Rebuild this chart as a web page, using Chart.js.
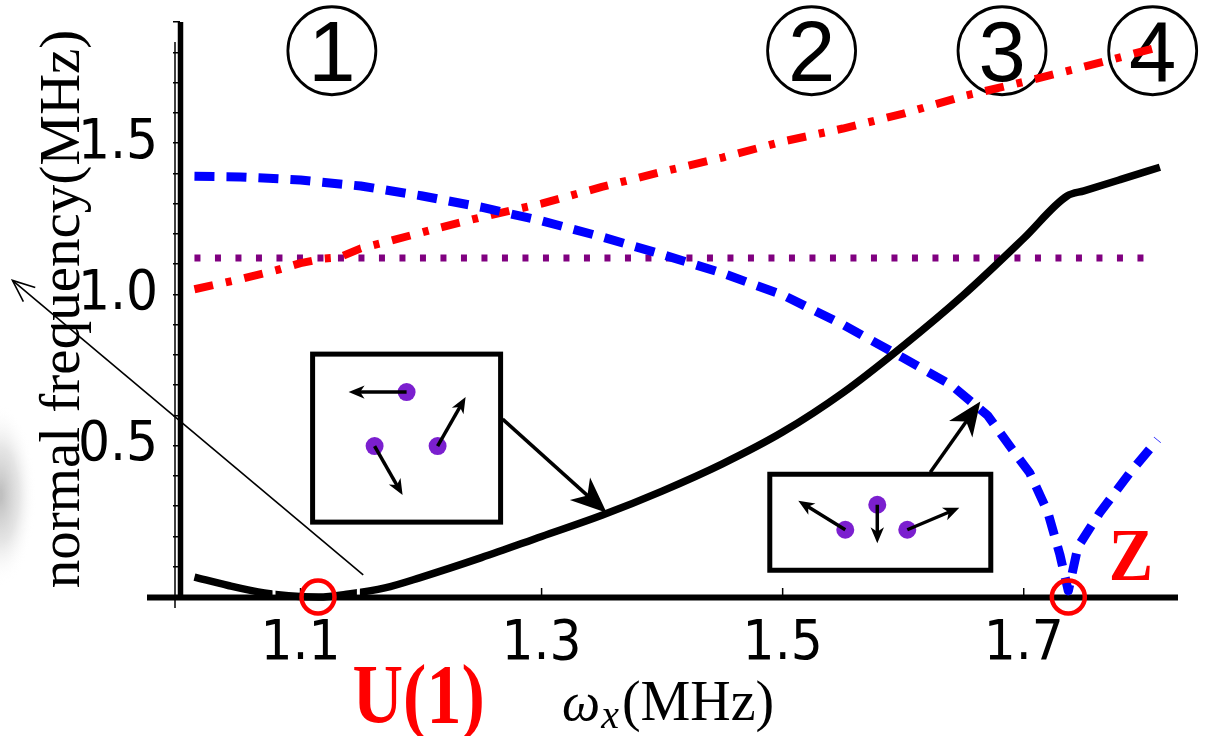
<!DOCTYPE html>
<html>
<head>
<meta charset="utf-8">
<script src="https://cdn.jsdelivr.net/npm/chart.js@4.4.1/dist/chart.umd.min.js"></script>
<style>
  html, body { margin: 0; padding: 0; background: #fff; }
  #wrap { width: 1211px; height: 736px; position: relative; }
</style>
</head>
<body>
<div id="wrap"><canvas id="modeChart"></canvas></div>
<script>
// mode frequencies vs omega_x
const blackX = [1.012, 1.04, 1.07, 1.09, 1.115, 1.14, 1.17, 1.2, 1.25, 1.3, 1.35, 1.4, 1.45, 1.5, 1.55, 1.6, 1.65, 1.7, 1.736, 1.75, 1.78, 1.813];
const blackY = [0.066, 0.038, 0.013, 0.004, 0.0, 0.01, 0.03, 0.065, 0.13, 0.2, 0.27, 0.35, 0.44, 0.545, 0.675, 0.83, 0.998, 1.185, 1.325, 1.342, 1.379, 1.42];

const blueX = [1.012, 1.05, 1.1, 1.15, 1.2, 1.25, 1.3, 1.35, 1.4, 1.45, 1.5, 1.55, 1.6, 1.64, 1.67, 1.69, 1.705, 1.72, 1.73, 1.737, 1.745, 1.763, 1.788, 1.811];
const blueY = [1.39, 1.388, 1.378, 1.358, 1.326, 1.288, 1.243, 1.19, 1.132, 1.07, 0.998, 0.9, 0.79, 0.70, 0.60, 0.49, 0.41, 0.28, 0.14, 0.02, 0.166, 0.278, 0.41, 0.52];

const redX = [1.012, 1.05, 1.08, 1.1, 1.118, 1.132, 1.15, 1.173, 1.21, 1.25, 1.3, 1.35, 1.4, 1.45, 1.5, 1.55, 1.6, 1.65, 1.7, 1.75, 1.81];
const redY = [1.017, 1.05, 1.08, 1.103, 1.118, 1.122, 1.152, 1.175, 1.215, 1.255, 1.3, 1.355, 1.405, 1.452, 1.505, 1.548, 1.597, 1.655, 1.702, 1.752, 1.815];

const purpleX = [1.012, 1.8];
const purpleY = [1.12, 1.12];

const xTickValues = [1.1, 1.3, 1.5, 1.7];
const yTickValues = [0, 0.1, 0.2, 0.3, 0.4, 0.5, 0.6, 0.7, 0.8, 0.9, 1.0, 1.1, 1.2, 1.3, 1.4, 1.5, 1.6, 1.7, 1.8, 1.9];
const yLabelValues = [0.5, 1.0, 1.5];

const regionX = [1.126, 1.524, 1.682, 1.807];
const regionLabels = ["1", "2", "3", "4"];

function pts(xs, ys) {
  return xs.map((x, i) => ({ x: x, y: ys[i] }));
}

const tickFont = { family: "'Liberation Sans Narrow', 'DejaVu Sans Condensed', 'Liberation Sans', sans-serif", size: 56 };
const serif = "'Liberation Serif', 'DejaVu Serif', serif";

function arrow(ctx, x1, y1, x2, y2, lw, head, filled) {
  const a = Math.atan2(y2 - y1, x2 - x1);
  const c = Math.cos(a), s = Math.sin(a);
  ctx.lineWidth = lw;
  ctx.beginPath();
  const back = filled ? head * 0.6 : 0;
  ctx.moveTo(x1, y1);
  ctx.lineTo(x2 - c * back, y2 - s * back);
  ctx.stroke();
  const w = head * 0.42;
  if (filled) {
    ctx.beginPath();
    ctx.moveTo(x2, y2);
    ctx.lineTo(x2 - head * c + w * s, y2 - head * s - w * c);
    ctx.lineTo(x2 - head * 0.72 * c, y2 - head * 0.72 * s);
    ctx.lineTo(x2 - head * c - w * s, y2 - head * s + w * c);
    ctx.closePath();
    ctx.fill();
  } else {
    ctx.beginPath();
    ctx.moveTo(x2 - head * c + w * s, y2 - head * s - w * c);
    ctx.lineTo(x2, y2);
    ctx.lineTo(x2 - head * c - w * s, y2 - head * s + w * c);
    ctx.stroke();
  }
}

function inset(ctx, cx, cy, w, h, dots, arrows) {
  ctx.strokeStyle = "#000";
  ctx.lineWidth = 5;
  ctx.strokeRect(cx - w / 2, cy - h / 2, w, h);
  ctx.fillStyle = "#7b1fcf";
  dots.forEach(d => {
    ctx.beginPath();
    ctx.arc(cx + d[0], cy + d[1], 9, 0, Math.PI * 2);
    ctx.fill();
  });
  ctx.fillStyle = "#000";
  arrows.forEach(a => {
    arrow(ctx, cx + a[0], cy + a[1], cx + a[2], cy + a[3], 3.5, 16, true);
  });
}

const decor = {
  id: "decor",
  beforeDatasetsDraw(chart) {
    const ctx = chart.ctx;
    const xs = chart.scales.x, ys = chart.scales.y;
    const area = chart.chartArea;
    ctx.save();

    // grey smudge at the left edge
    const g = ctx.createRadialGradient(0, 495, 5, 0, 495, 90);
    g.addColorStop(0, "rgba(140,140,140,0.55)");
    g.addColorStop(0.5, "rgba(170,170,170,0.3)");
    g.addColorStop(1, "rgba(255,255,255,0)");
    ctx.save();
    ctx.translate(0, 495);
    ctx.scale(0.4, 1);
    ctx.translate(0, -495);
    ctx.fillStyle = g;
    ctx.fillRect(0, 400, 120, 190);
    ctx.restore();

    // axes
    ctx.strokeStyle = "#000";
    ctx.lineWidth = 6;
    ctx.beginPath();
    ctx.moveTo(147, area.bottom + 0.5);
    ctx.lineTo(area.right, area.bottom + 0.5);
    ctx.stroke();
    ctx.lineWidth = 5.5;
    ctx.beginPath();
    ctx.moveTo(area.left + 0.5, area.top);
    ctx.lineTo(area.left + 0.5, area.bottom + 3);
    ctx.stroke();
    ctx.lineWidth = 1.5;
    ctx.beginPath();
    ctx.moveTo(area.left - 5, area.top + 20);
    ctx.lineTo(area.left - 5, area.bottom + 11);
    ctx.stroke();
    xs.ticks.forEach(t => {
      const x = xs.getPixelForValue(t.value);
      ctx.beginPath();
      ctx.moveTo(x, area.bottom);
      ctx.lineTo(x, area.bottom - 9);
      ctx.stroke();
    });

    // circled region numbers
    const cyR = ys.getPixelForValue(1.805);
    regionX.forEach((v, i) => {
      const cx = xs.getPixelForValue(v);
      ctx.lineWidth = 2.8;
      ctx.beginPath();
      ctx.arc(cx, cyR, 44, 0, Math.PI * 2);
      ctx.stroke();
      ctx.fillStyle = "#000";
      ctx.font = "85px 'Liberation Sans', Arial, sans-serif";
      ctx.textAlign = "center";
      ctx.textBaseline = "alphabetic";
      ctx.fillText(regionLabels[i], cx, cyR + 30);
    });
    ctx.restore();
  },
  afterDatasetsDraw(chart) {
    const ctx = chart.ctx;
    const xs = chart.scales.x, ys = chart.scales.y;
    const X = v => xs.getPixelForValue(v);
    const Y = v => ys.getPixelForValue(v);
    ctx.save();
    ctx.lineCap = "butt";

    // small white breaks in the black curve beside the U(1) marker
    ctx.strokeStyle = "#fff";
    ctx.lineWidth = 3;
    [1.078, 1.148].forEach(v => {
      ctx.beginPath();
      ctx.moveTo(X(v), Y(0.045));
      ctx.lineTo(X(v), Y(0.008));
      ctx.stroke();
    });

    // inset 1: rotating triangle mode, pointing at the black branch
    const b1x = X(1.188), b1y = Y(0.525);
    inset(ctx, b1x, b1y, 188, 168,
      [[0, -46], [-32, 8], [31, 8]],
      [[0, -46, -58, -46], [-32, 8, -4, 57], [31, 8, 59, -41]]);
    ctx.fillStyle = "#000";
    arrow(ctx, b1x + 96, b1y - 19, X(1.354), Y(0.278), 3.5, 36, true);

    // inset 2: breathing mode, pointing at the blue branch
    const b2x = X(1.581), b2y = Y(0.247);
    inset(ctx, b2x, b2y, 221, 96,
      [[-35, 7.5], [-3, -17.5], [27, 7.5]],
      [[-35, 7.5, -82, -21.5], [-3, -17.5, -3, 21], [27, 7.5, 79, -14.5]]);
    ctx.fillStyle = "#000";
    arrow(ctx, b2x + 50, b2y - 50, X(1.664), Y(0.646), 3.5, 34, true);

    // long thin arrow out to the left
    ctx.strokeStyle = "#000";
    arrow(ctx, X(1.152), Y(0.073), X(0.861), Y(1.046), 1.6, 22, false);

    // red circles at the zero crossings
    ctx.strokeStyle = "#ff0000";
    ctx.lineWidth = 4.5;
    [1.1145, 1.737].forEach(v => {
      ctx.beginPath();
      ctx.arc(X(v), Y(0), 16.5, 0, Math.PI * 2);
      ctx.stroke();
    });

    // red symmetry labels
    ctx.fillStyle = "#ff0000";
    ctx.textAlign = "center";
    ctx.textBaseline = "alphabetic";
    ctx.save();
    ctx.translate(X(1.198), Y(-0.417));
    ctx.scale(1, 1.2);
    ctx.font = "bold 70px " + serif;
    ctx.fillText("U(1)", 0, 0);
    ctx.restore();
    ctx.save();
    ctx.translate(X(1.789), Y(0.056));
    ctx.scale(0.95, 1.05);
    ctx.font = "bold 70px " + serif;
    ctx.fillText("Z", 0, 0);
    ctx.restore();

    // axis titles
    ctx.fillStyle = "#000";
    ctx.save();
    ctx.translate(79, 309);
    ctx.rotate(-Math.PI / 2);
    ctx.font = "57px " + serif;
    ctx.textAlign = "center";
    ctx.fillText("normal frequency(MHz)", 0, 0);
    ctx.restore();

    ctx.textAlign = "left";
    let tx = 562;
    const by = 720;
    ctx.font = "italic 54px " + serif;
    ctx.fillText("\u03c9", tx, by);
    tx += ctx.measureText("\u03c9").width + 1;
    ctx.font = "italic 40px " + serif;
    ctx.fillText("x", tx, by + 8);
    tx += ctx.measureText("x").width + 3;
    ctx.font = "56px " + serif;
    ctx.fillText("(MHz)", tx, by);

    ctx.restore();
  }
};

const ctx = document.getElementById("modeChart").getContext("2d");
new Chart(ctx, {
  type: "line",
  data: {
    datasets: [
      {
        data: pts(blackX, blackY),
        borderColor: "#000000",
        borderWidth: 7.5,
        cubicInterpolationMode: "monotone",
      },
      {
        data: pts(blueX, blueY),
        borderColor: "#0000ff",
        borderWidth: 9,
        borderDash: [20, 12],
        tension: 0,
      },
      {
        data: pts(redX, redY),
        borderColor: "#ff0000",
        borderWidth: 8,
        borderDash: [19, 13, 6, 13],
        tension: 0,
      },
      {
        data: pts(purpleX, purpleY),
        borderColor: "#800080",
        borderWidth: 7,
        borderDash: [6, 14.5],
        tension: 0,
      },
    ].map(d => Object.assign({ pointRadius: 0, fill: false, clip: 14, borderCapStyle: "butt", borderJoinStyle: "round" }, d)),
  },
  options: {
    responsive: true,
    maintainAspectRatio: false,
    animation: false,
    layout: { padding: { left: 0, right: 33, top: 22, bottom: 0 } },
    plugins: {
      legend: { display: false },
      tooltip: { enabled: false },
    },
    scales: {
      x: {
        type: "linear",
        min: 1.0,
        max: 1.828,
        afterBuildTicks: s => { s.ticks = xTickValues.map(v => ({ value: v })); },
        afterFit: s => { s.height = 139; s.paddingLeft = 0; s.paddingRight = 0; },
        ticks: {
          font: tickFont,
          color: "#000",
          padding: 14,
          autoSkip: false,
          maxRotation: 0,
          callback: v => v.toFixed(1),
        },
        grid: { display: false, drawTicks: false, tickLength: 0 },
        border: { display: false },
      },
      y: {
        type: "linear",
        min: 0,
        max: 1.9,
        afterBuildTicks: s => { s.ticks = yTickValues.map(v => ({ value: v })); },
        afterFit: s => { s.width = 180; s.paddingTop = 0; s.paddingBottom = 0; },
        ticks: {
          font: tickFont,
          color: "#000",
          padding: 15,
          autoSkip: false,
          callback: v => (yLabelValues.some(l => Math.abs(l - v) < 1e-6) ? v.toFixed(1) : ""),
        },
        grid: {
          display: true,
          drawOnChartArea: false,
          drawTicks: true,
          tickLength: 7,
          color: "#000",
          lineWidth: 1.5,
        },
        border: { display: false },
      },
    },
  },
  plugins: [decor],
});
</script>
</body>
</html>
